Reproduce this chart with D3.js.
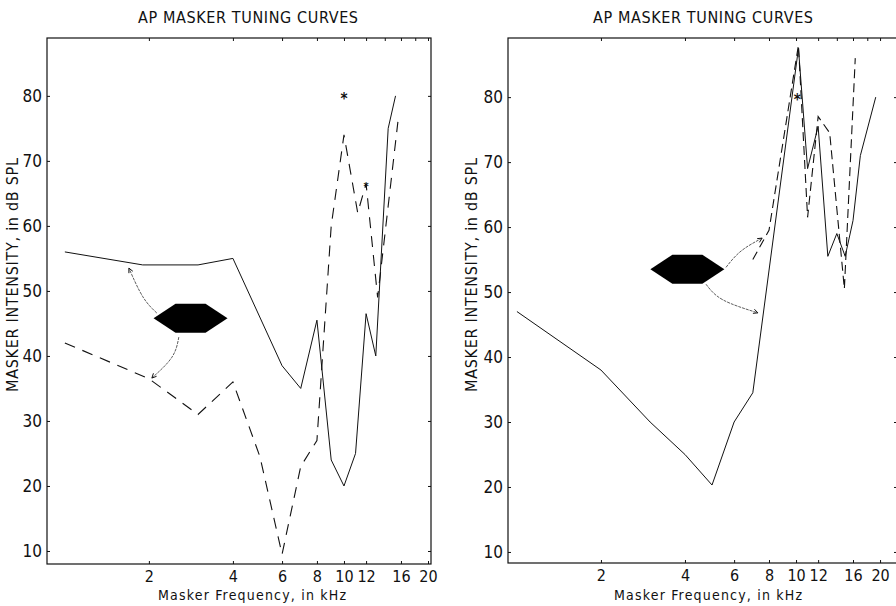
<!DOCTYPE html>
<html>
<head>
<meta charset="utf-8">
<script src="https://cdn.jsdelivr.net/npm/d3@7"></script>
<style>
  body { margin: 0; background: #fff; }
  text { font-family: "Liberation Sans Narrow", "DejaVu Sans Condensed", sans-serif; fill: #111; }
</style>
</head>
<body>
<div id="chart-area"></div>
<script>
// values (kHz, dB SPL)
var leftSolidFreq = [1, 1.9, 3, 4, 6, 7, 8, 9, 10, 11, 12, 13, 14.4, 15.3];
var leftSolidDb   = [56, 54, 54, 55, 38.5, 35, 45.5, 24, 20, 25, 46.5, 40, 75, 80];
var leftDashFreq  = [1, 2, 3, 4, 5, 6, 7, 8, 9, 10, 11.2, 12, 13.2, 15.6];
var leftDashDb    = [42, 36.5, 31, 36, 24.5, 9.5, 23, 27, 60, 74, 62, 66.5, 49, 76];

var rightSolidFreq = [1, 2, 3, 4, 5, 6, 7, 10.2, 11, 12, 13, 14, 15, 16, 17, 19.3];
var rightSolidDb   = [47, 38, 30, 25, 20.3, 30, 34.5, 87.5, 69, 75.5, 55.5, 59, 55.5, 61, 71, 80];
var rightDashFreq  = [7, 8, 10.2, 11, 12, 13.2, 14.9, 16.3];
var rightDashDb    = [55, 59.5, 88, 61.5, 77, 74.5, 50.5, 86];

// probe tone symbols and the arrows leaving them
var leftProbe  = [2.82, 45.8];
var rightProbe = [4.08, 53.5];
var leftArrows = [
    [[2.135, 46.6], [1.903, 49.1], [1.696, 53.5]],
    [[2.56, 42.9], [2.418, 39.8], [2.05, 36.6]]
];
var rightArrows = [
    [[5.61, 53.8], [6.35, 56.3], [7.56, 58.3]],
    [[4.76, 51.2], [5.47, 48.8], [7.3, 46.8]]
];
var leftStars  = [[10, 80], [12, 66.5]];
var rightStars = [[10.1, 80]];

var xTicks = [2, 4, 6, 8, 10, 12, 16, 20];
var xMinorTicks = [2, 4, 6, 8, 10, 12, 14, 16, 18, 20];
var yTicks = [10, 20, 30, 40, 50, 60, 70, 80];

var titleText = "AP MASKER TUNING CURVES";
var xTitle = "Masker  Frequency, in kHz";
var yTitle = "MASKER INTENSITY, in dB SPL";

var svg = d3.select("#chart-area")
    .append("svg")
        .attr("width", 896)
        .attr("height", 606);

function zip(a, b) {
    return a.map(function(d, i) { return [d, b[i]]; });
}

function drawPanel(p) {
    var x = d3.scaleLog().domain(p.xDomain).range(p.xRange);
    var y = d3.scaleLinear().domain(p.yDomain).range(p.yRange);
    var g = svg.append("g");

    // frame
    g.append("rect")
        .attr("x", p.xRange[0])
        .attr("y", p.yRange[1])
        .attr("width", p.xRange[1] - p.xRange[0])
        .attr("height", p.yRange[0] - p.yRange[1])
        .attr("fill", "none")
        .attr("stroke", "#111")
        .attr("stroke-width", 1.2);

    // axes
    var xAxis = g.append("g")
        .attr("transform", "translate(0," + p.yRange[0] + ")")
        .call(d3.axisBottom(x).tickValues(xTicks).tickFormat(d3.format("d"))
            .tickSize(-3).tickPadding(7));
    var xTop = g.append("g")
        .attr("transform", "translate(0," + p.yRange[1] + ")")
        .call(d3.axisTop(x).tickValues(xMinorTicks).tickFormat("").tickSize(-3));
    var yAxis = g.append("g")
        .attr("transform", "translate(" + p.xRange[0] + ",0)")
        .call(d3.axisLeft(y).tickValues(yTicks).tickSize(-3).tickPadding(5));
    var yRight = g.append("g")
        .attr("transform", "translate(" + p.xRange[1] + ",0)")
        .call(d3.axisRight(y).tickValues(yTicks).tickFormat("").tickSize(-3));

    [xAxis, xTop, yAxis, yRight].forEach(function(a) {
        a.select(".domain").remove();
        a.selectAll("line").attr("stroke", "#111");
        a.selectAll("text")
            .attr("font-family", "Liberation Sans Narrow, DejaVu Sans Condensed, sans-serif")
            .attr("font-size", "16px")
            .attr("fill", "#111");
    });
    yAxis.selectAll("text").attr("font-size", "17px");

    // titles
    g.append("text")
        .attr("x", p.titleX)
        .attr("y", 23)
        .attr("text-anchor", "middle")
        .attr("font-size", "16px")
        .attr("textLength", 220)
        .text(titleText);
    g.append("text")
        .attr("x", p.xTitleX)
        .attr("y", 600)
        .attr("text-anchor", "middle")
        .attr("font-size", "14px")
        .attr("textLength", 188)
        .text(xTitle);
    g.append("text")
        .attr("transform", "translate(" + p.yTitleX + ",275) rotate(-90)")
        .attr("text-anchor", "middle")
        .attr("font-size", "16px")
        .attr("textLength", 234)
        .text(yTitle);

    // curves
    var line = d3.line()
        .x(function(d) { return x(d[0]); })
        .y(function(d) { return y(d[1]); });

    g.append("path")
        .attr("d", line(zip(p.solidFreq, p.solidDb)))
        .attr("fill", "none")
        .attr("stroke", "#111")
        .attr("stroke-width", 1);
    g.append("path")
        .attr("d", line(zip(p.dashFreq, p.dashDb)))
        .attr("fill", "none")
        .attr("stroke", "#111")
        .attr("stroke-width", 1.1)
        .attr("stroke-dasharray", p.dash);

    // probe tone symbol
    var cx = x(p.probe[0]), cy = y(p.probe[1]);
    var hw = 37, hh = 14.5, fw = 15;
    var hex = [[cx - hw, cy], [cx - fw, cy - hh], [cx + fw, cy - hh],
               [cx + hw, cy], [cx + fw, cy + hh], [cx - fw, cy + hh]];
    g.append("polygon")
        .attr("points", hex.map(function(d) { return d.join(","); }).join(" "))
        .attr("fill", "#000");

    // arrows
    var curve = d3.line()
        .x(function(d) { return x(d[0]); })
        .y(function(d) { return y(d[1]); })
        .curve(d3.curveNatural);
    p.arrows.forEach(function(a) {
        g.append("path")
            .attr("d", curve(a))
            .attr("fill", "none")
            .attr("stroke", "#333")
            .attr("stroke-width", 0.8)
            .attr("stroke-dasharray", "3,1");
        var end = a[a.length - 1], prev = a[a.length - 2];
        var ex = x(end[0]), ey = y(end[1]);
        var ang = Math.atan2(ey - y(prev[1]), ex - x(prev[0]));
        var s = 5;
        g.append("path")
            .attr("d", "M" + (ex - s * Math.cos(ang - 0.45)) + "," + (ey - s * Math.sin(ang - 0.45)) +
                "L" + ex + "," + ey +
                "L" + (ex - s * Math.cos(ang + 0.45)) + "," + (ey - s * Math.sin(ang + 0.45)))
            .attr("fill", "none")
            .attr("stroke", "#111")
            .attr("stroke-width", 1);
    });

    // asterisks
    p.stars.forEach(function(d, i) {
        g.append("text")
            .attr("x", x(d[0]))
            .attr("y", y(d[1]) + (i === 0 ? 8 : 6))
            .attr("text-anchor", "middle")
            .attr("font-family", "DejaVu Sans, sans-serif")
            .attr("font-weight", "bold")
            .attr("font-size", i === 0 ? "15px" : "11px")
            .text("*");
    });
}

drawPanel({
    xDomain: [0.863, 20.5], xRange: [47, 431],
    yDomain: [8, 88.9], yRange: [564, 38],
    titleX: 248, xTitleX: 252, yTitleX: 18,
    solidFreq: leftSolidFreq, solidDb: leftSolidDb,
    dashFreq: leftDashFreq, dashDb: leftDashDb, dash: "11,8",
    probe: leftProbe, arrows: leftArrows, stars: leftStars
});

drawPanel({
    xDomain: [0.929, 23], xRange: [508, 897],
    yDomain: [8.3, 89.1], yRange: [563, 38],
    titleX: 703, xTitleX: 708, yTitleX: 477,
    solidFreq: rightSolidFreq, solidDb: rightSolidDb,
    dashFreq: rightDashFreq, dashDb: rightDashDb, dash: "9,5",
    probe: rightProbe, arrows: rightArrows, stars: rightStars
});
</script>
</body>
</html>
